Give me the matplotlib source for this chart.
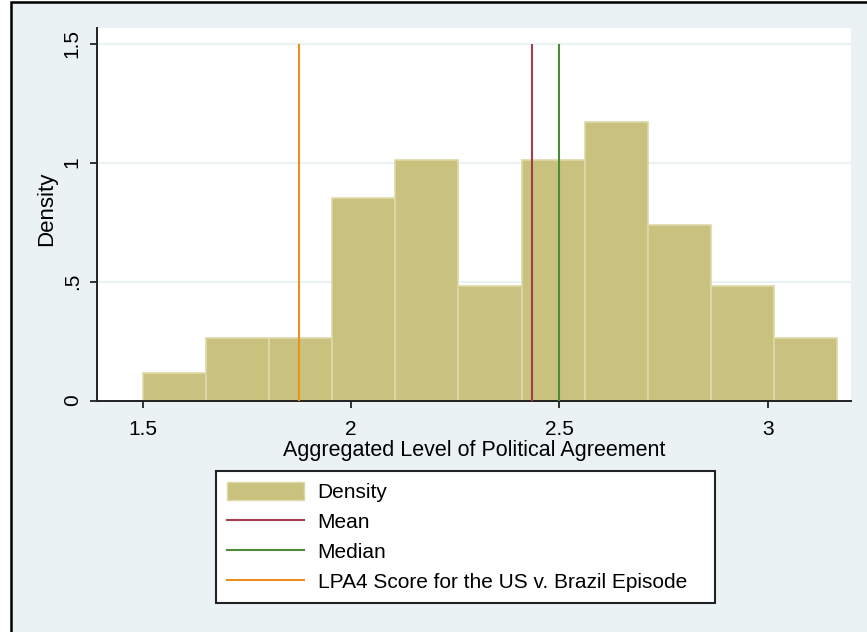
import numpy as np
import matplotlib
matplotlib.use("Agg")
import matplotlib.pyplot as plt
from matplotlib.patches import Rectangle, Patch
from matplotlib.lines import Line2D

plt.rcParams['font.family'] = ['Liberation Sans', 'DejaVu Sans']

# histogram of aggregated political agreement (density scale)
bin_start = 1.5
bin_width = 1.6667 / 11
density = [0.114, 0.262, 0.262, 0.851, 1.009, 0.480, 1.009, 1.170, 0.738, 0.480, 0.262]

mean_val = 2.433
median_val = 2.5
lpa4_val = 1.876

x_ticks = [1.5, 2, 2.5, 3]
x_ticklabels = ["1.5", "2", "2.5", "3"]
y_ticks = [0, 0.5, 1, 1.5]
y_ticklabels = ["0", ".5", "1", "1.5"]

legend_labels = ["Density", "Mean", "Median", "LPA4 Score for the US v. Brazil Episode"]

bg = "#EAF2F3"
bar_col = "#C9C27F"
bar_edge = "#DDD8A8"
mean_col = "#A23F4A"
median_col = "#4F8A3A"
lpa_col = "#EC8E1E"
fs = 15

fig = plt.figure(figsize=(8.67, 6.32), dpi=100, facecolor="white")
# stata-like outer background with the cropped black frame (top and left only)
fig.add_artist(Rectangle((10.5 / 867, -0.1), 1.2, 1.1 - 2.5 / 632,
                         transform=fig.transFigure, facecolor=bg,
                         edgecolor="black", linewidth=1.8, zorder=-10))

ax = fig.add_axes([97 / 867, 1 - 400.5 / 632, (850.7 - 97) / 867, (400.5 - 28) / 632])
ax.set_facecolor("white")

lefts = bin_start + bin_width * np.arange(len(density))
ax.bar(lefts, density, width=bin_width, align="edge", color=bar_col,
       edgecolor=bar_edge, linewidth=1.2, zorder=2)

ax.vlines(mean_val, 0, 1.5, color=mean_col, linewidth=1.5, zorder=3)
ax.vlines(median_val, 0, 1.5, color=median_col, linewidth=1.5, zorder=3)
ax.vlines(lpa4_val, 0, 1.5, color=lpa_col, linewidth=1.5, zorder=3)

ax.set_xlim(1.3903, 3.199)
ax.set_ylim(0, 1.566)

for y in y_ticks[1:]:
    ax.axhline(y, color=bg, linewidth=1.5, zorder=1)

ax.set_xticks(x_ticks)
ax.set_xticklabels(x_ticklabels)
ax.set_yticks(y_ticks)
ax.set_yticklabels(y_ticklabels, rotation=90, va="center")
ax.tick_params(axis="both", direction="out", length=5, width=1.3,
               labelsize=fs, color="#222222")
ax.tick_params(axis="x", pad=9.2)
ax.tick_params(axis="y", pad=6)

for s in ["top", "right"]:
    ax.spines[s].set_visible(False)
for s in ["left", "bottom"]:
    ax.spines[s].set_linewidth(1.4)
    ax.spines[s].set_color("#222222")

ax.set_xlabel("Aggregated Level of Political Agreement", fontsize=15.5, labelpad=0.5)
ax.set_ylabel("Density", fontsize=16, labelpad=4)
ax.yaxis.label.set_y(0.514)

handles = [Patch(facecolor=bar_col, edgecolor=bar_edge),
           Line2D([], [], color=mean_col, linewidth=1.5),
           Line2D([], [], color=median_col, linewidth=1.5),
           Line2D([], [], color=lpa_col, linewidth=1.5)]
leg = fig.legend(handles, legend_labels, loc="upper left",
                 bbox_to_anchor=(215.7 / 867, 1 - 601.7 / 632, (715 - 215.7) / 867, 130.7 / 632),
                 bbox_transform=fig.transFigure, mode="expand",
                 fontsize=fs, handlelength=3.7, handleheight=1.0,
                 handletextpad=0.67, labelspacing=0.46, borderpad=0.52,
                 borderaxespad=0, fancybox=False, framealpha=1,
                 edgecolor="#222222", facecolor="white")
leg.get_frame().set_linewidth(1.5)

fig.savefig("out.png", dpi=100, facecolor=fig.get_facecolor())
